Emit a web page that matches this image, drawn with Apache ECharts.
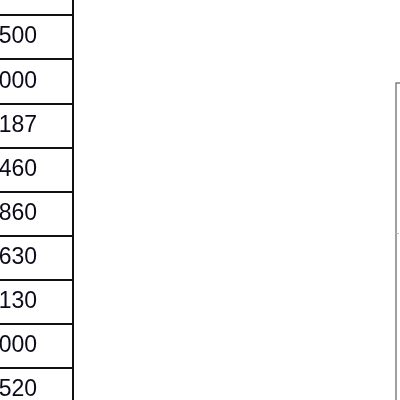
<!DOCTYPE html>
<html>
<head>
<meta charset="utf-8">
<script src="https://cdn.jsdelivr.net/npm/echarts@6/dist/echarts.min.js"></script>
<style>html,body{margin:0;padding:0;background:#fff}#c{width:400px;height:400px}</style>
</head>
<body>
<div id="c"></div>
<script>
// Visible (clipped) table cells, top to bottom
var cellLabels = ['104', '500', '000', '187', '460', '860', '630', '130', '000', '520'];
// Right-hand chart frame: one tick mark position (in px-units along the axis)
var frameTicks = [150];

var chart = echarts.init(document.getElementById('c'), null, {renderer: 'canvas'});
chart.setOption({
  animation: false,
  grid: [
    {left: -3, top: -29, width: 76, height: 441, outerBoundsMode: 'none', containLabel: false,
      show: true, borderColor: '#111', borderWidth: 2, backgroundColor: 'transparent'},
    {left: 396, top: 83, width: 100, height: 400, outerBoundsMode: 'none', containLabel: false,
      show: true, borderColor: '#808080', borderWidth: 1.5, backgroundColor: 'transparent'}
  ],
  xAxis: [
    {gridIndex: 0, type: 'value', min: 0, max: 1, show: false},
    {gridIndex: 1, type: 'value', min: 0, max: 1, show: false}
  ],
  yAxis: [
    {
      gridIndex: 0, type: 'category', inverse: true, data: cellLabels, boundaryGap: true,
      axisLine: {show: false}, axisTick: {show: false},
      axisLabel: {inside: true, align: 'right', margin: 40, color: '#0a0a1a',
        fontFamily: 'Liberation Sans, Arial, sans-serif', fontSize: 23},
      splitLine: {show: true, lineStyle: {color: '#111', width: 2}}
    },
    {
      gridIndex: 1, type: 'value', inverse: true, min: 0, max: 400, interval: 150,
      axisLine: {show: false}, axisLabel: {show: false}, splitLine: {show: false},
      axisTick: {show: true, inside: true, length: 3, customValues: frameTicks, lineStyle: {color: '#bbb', width: 1}}
    }
  ],
  series: [
    {type: 'scatter', xAxisIndex: 0, yAxisIndex: 0, data: [], silent: true},
    {type: 'scatter', xAxisIndex: 1, yAxisIndex: 1, data: [], silent: true}
  ]
});
</script>
</body>
</html>
